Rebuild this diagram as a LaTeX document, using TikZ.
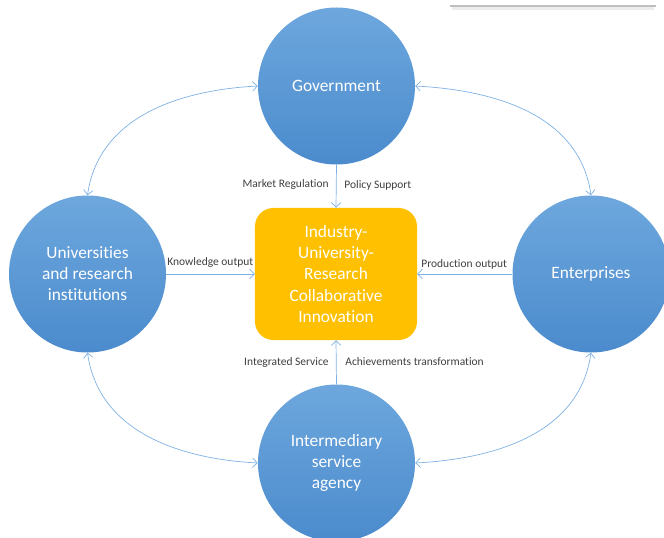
\documentclass[tikz,border=0pt]{standalone}
\usepackage{fontspec}
\setmainfont[RawFeature={-liga;-clig;-calt;-dlig}]{Carlito}
\usetikzlibrary{arrows.meta}
\definecolor{circtop}{HTML}{6DA7DD}
\definecolor{circbot}{HTML}{4B8BCD}
\definecolor{hubgold}{HTML}{FFC000}
\definecolor{linkblue}{HTML}{7FB2E4}
\definecolor{labelgray}{HTML}{3F3F3F}
\tikzset{
	actor/.style={circle, minimum size=4.71cm, inner sep=0pt, top color=circtop, bottom color=circbot, draw=none, text=white, align=center, font=\fontsize{14.8}{18}\selectfont},
	hub/.style={rectangle, rounded corners=0.55cm, minimum width=4.86cm, minimum height=3.96cm, fill=hubgold, text=white, align=center, font=\fontsize{14.8}{18}\selectfont},
	flow/.style={draw=linkblue, line width=0.6pt, -{Straight Barb[length=4pt,width=8pt]}},
	cycle/.style={draw=linkblue, line width=0.6pt, {Straight Barb[length=4pt,width=8pt]}-{Straight Barb[length=4pt,width=8pt]}},
	tag/.style={text=labelgray, font=\fontsize{9.8}{11}\selectfont, inner sep=1pt},
}

\begin{document}
\begin{tikzpicture}[x=0.03cm, y=-0.03cm]
\useasboundingbox (0,0) rectangle (664,538);
% thin rule in the upper right corner
\draw[gray!15, line width=3pt] (452,8) -- (654,8);
\draw[gray!50, line width=1.4pt] (450,6) -- (656,6);
% the four actors and the centre
\node[actor] (gov) at (336.5,86) {Government};
\node[actor] (uni) at (87.5,274) {Universities\\and research\\institutions};
\node[actor] (ent) at (591,274) {Enterprises};
\node[actor] (agency) at (336.5,463) {Intermediary\\service\\agency};
\node[hub] (iur) at (336,274) {Industry-\\University-\\Research\\Collaborative\\Innovation};
% links round the outside
\draw[cycle] (uni.north) to[out=82,in=183] (gov.west);
\draw[cycle] (gov.east) to[out=-3,in=98] (ent.north);
\draw[cycle] (uni.south) to[out=-82,in=177] (agency.west);
\draw[cycle] (agency.east) to[out=3,in=-98] (ent.south);
% links into the centre
\draw[flow] (gov.south) -- (iur.north);
\draw[flow] (uni.east) -- (iur.west);
\draw[flow] (ent.west) -- (iur.east);
\draw[flow] (agency.north) -- (iur.south);
\node[tag, anchor=east] (regul) at (330,185) {Market Regulation};
\node[tag, anchor=west] (policy) at (343,185) {Policy Support};
\node[tag, anchor=west] (know) at (166,263) {Knowledge output};
\node[tag, anchor=west] (prod) at (420,264) {Production output};
\node[tag, anchor=east] (integ) at (330,362) {Integrated Service};
\node[tag, anchor=west] (achiev) at (344,362) {Achievements transformation};
\end{tikzpicture}
\end{document}
